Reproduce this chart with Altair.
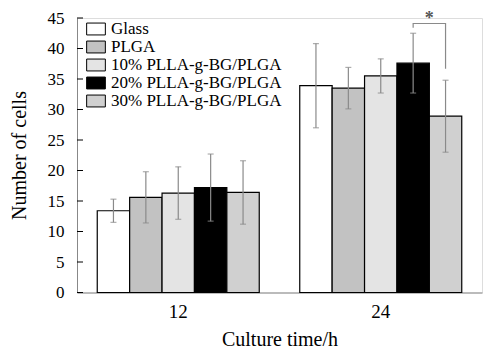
import altair as alt
import pandas as pd

times = ["12", "24"]
series = ["Glass", "PLGA", "10% PLLA-g-BG/PLGA", "20% PLLA-g-BG/PLGA", "30% PLLA-g-BG/PLGA"]
means_12 = [13.4, 15.6, 16.3, 17.2, 16.4]
errs_12 = [1.9, 4.2, 4.3, 5.5, 5.2]
means_24 = [33.9, 33.5, 35.5, 37.6, 28.9]
errs_24 = [6.9, 3.4, 2.8, 4.9, 5.9]
fills = ["#ffffff", "#c2c2c2", "#e4e4e4", "#000000", "#d0d0d0"]
y_ticks = [0, 5, 10, 15, 20, 25, 30, 35, 40, 45]
bracket_time = "24"
bracket_series = [series[3], series[3], series[4], series[4]]
bracket_y = [43.4, 44.1, 44.1, 36.7]
star_y = [45.3]

rows = []
for t, ms, es in [("12", means_12, errs_12), ("24", means_24, errs_24)]:
    for s, m, e in zip(series, ms, es):
        rows.append({"time": t, "series": s, "mean": m, "lo": m - e, "hi": m + e})
df = pd.DataFrame(rows)

brk = pd.DataFrame({
    "time": [bracket_time] * 4,
    "series": bracket_series,
    "y": bracket_y,
    "o": [0, 1, 2, 3],
})
star = pd.DataFrame({"time": [bracket_time], "series": [series[3]], "y": star_y, "t": ["*"]})
ticks = pd.DataFrame({"v": y_ticks})

FONT = "Liberation Serif"

x_enc = alt.X(
    "time:N",
    sort=times,
    scale=alt.Scale(paddingInner=0.2, paddingOuter=0.1),
    axis=alt.Axis(
        title="Culture time/h",
        labelAngle=0,
        ticks=False,
        labelFont=FONT,
        labelFontSize=19,
        labelBaseline="alphabetic",
        labelPadding=25,
        titleFont=FONT,
        titleFontSize=20,
        titleFontWeight="normal",
        titleBaseline="alphabetic",
        titleY=53,
    ),
)
xo_enc = alt.XOffset("series:N", sort=series, scale=alt.Scale(paddingInner=0, paddingOuter=0))
y_scale = alt.Scale(domain=[0, 45], nice=False, zero=True)
y_axis = alt.Axis(
    title="Number of cells",
    values=y_ticks,
    tickCount=10,
    ticks=False,
    grid=False,
    labelOverlap=False,
    labelFont=FONT,
    labelFontSize=17,
    labelPadding=13,
    titleFont=FONT,
    titleFontSize=20,
    titleFontWeight="normal",
    titleAngle=-90,
    titleBaseline="alphabetic",
    titleX=-52,
    titleY=137,
)


def Y(field):
    return alt.Y(field, scale=y_scale, axis=y_axis, title="Number of cells")


bars = alt.Chart(df).mark_bar(stroke="black", strokeWidth=1.2).encode(
    x=x_enc,
    xOffset=xo_enc,
    y=Y("mean:Q"),
    fill=alt.Fill(
        "series:N",
        sort=series,
        scale=alt.Scale(domain=series, range=fills),
        legend=alt.Legend(
            orient="none",
            legendX=10,
            legendY=2,
            title=None,
            padding=0,
            symbolType="M-1.1,-0.7L1.1,-0.7L1.1,0.7L-1.1,0.7Z",
            symbolSize=289,
            symbolStrokeColor="black",
            symbolStrokeWidth=1,
            labelFont=FONT,
            labelFontSize=17,
            labelOffset=6,
            labelLimit=400,
            rowPadding=1,
        ),
    ),
)

err = alt.Chart(df).mark_rule(color="#8a8a8a", strokeWidth=1.2).encode(
    x=x_enc, xOffset=xo_enc, y=Y("lo:Q"), y2="hi:Q"
)
cap_hi = alt.Chart(df).mark_tick(color="#8a8a8a", size=6, thickness=1.2).encode(
    x=x_enc, xOffset=xo_enc, y=Y("hi:Q")
)
cap_lo = alt.Chart(df).mark_tick(color="#8a8a8a", size=6, thickness=1.2).encode(
    x=x_enc, xOffset=xo_enc, y=Y("lo:Q")
)

bracket = alt.Chart(brk).mark_line(color="#8a8a8a", strokeWidth=1.2).encode(
    x=x_enc, xOffset=xo_enc, y=Y("y:Q"), order="o:Q"
)
star_txt = alt.Chart(star).mark_text(
    font=FONT, fontSize=18, fontWeight="bold", dx=16, dy=3, baseline="middle", color="#555555"
).encode(x=x_enc, xOffset=xo_enc, y=Y("y:Q"), text="t:N")

yticks = alt.Chart(ticks).mark_rule(color="black", strokeWidth=1).encode(
    y=Y("v:Q"), x=alt.value(0), x2=alt.value(6)
)

chart = (
    alt.layer(bars, err, cap_hi, cap_lo, bracket, star_txt, yticks)
    .properties(
        width=405,
        height=274.5,
        autosize=alt.AutoSizeParams(type="none"),
        padding={"left": 77, "top": 18, "right": 1, "bottom": 56.5},
    )
    .configure_view(stroke=None)
    .configure_axis(
        labelFont=FONT,
        titleFont=FONT,
        labelColor="black",
        titleColor="black",
        domainColor="black",
        domainWidth=1.2,
        grid=False,
    )
    .configure_axisY(labelFont=FONT, labelFontSize=17)
    .configure(background="white", font=FONT)
)

chart.save("out.html", embed_options={"renderer": "svg", "actions": False})
